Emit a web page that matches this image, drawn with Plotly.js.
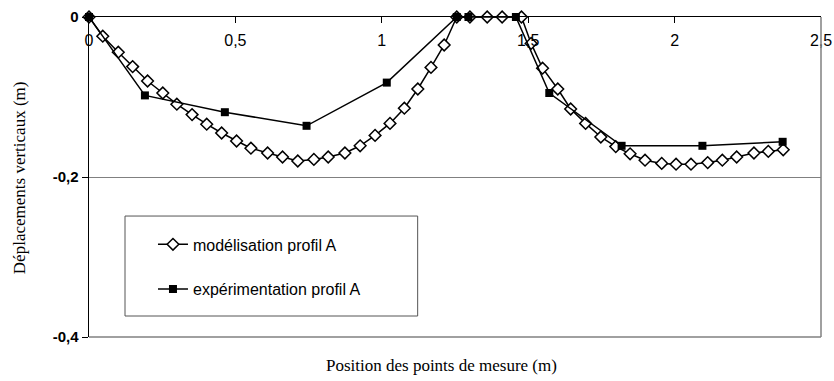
<!DOCTYPE html>
<html>
<head>
<meta charset="utf-8">
<script src="https://cdn.plot.ly/plotly-3.0.1.min.js"></script>
<style>html,body{margin:0;padding:0;background:#fff;}#chart{width:834px;height:381px;}</style>
</head>
<body>
<div id="chart"></div>
<script>
// Modélisation profil A (diamonds)
const modX = [0,0.047,0.100,0.149,0.200,0.252,0.300,0.352,0.402,0.453,0.504,0.553,0.610,0.661,0.713,0.768,0.817,0.874,0.926,0.977,1.028,1.077,1.123,1.168,1.213,1.256,1.301,1.360,1.411,1.477,1.510,1.549,1.601,1.645,1.696,1.748,1.799,1.848,1.899,1.956,2.005,2.056,2.113,2.163,2.212,2.271,2.320,2.371];
const modY = [0,-0.024,-0.044,-0.062,-0.080,-0.095,-0.109,-0.122,-0.134,-0.145,-0.155,-0.164,-0.170,-0.175,-0.180,-0.178,-0.175,-0.170,-0.161,-0.148,-0.133,-0.114,-0.090,-0.063,-0.035,0,0,0,0,0,-0.033,-0.064,-0.090,-0.115,-0.133,-0.150,-0.162,-0.171,-0.179,-0.183,-0.184,-0.184,-0.182,-0.179,-0.175,-0.170,-0.168,-0.166];
// Expérimentation profil A (squares)
const expX = [0,0.191,0.464,0.743,1.017,1.256,1.296,1.458,1.572,1.819,2.095,2.369];
const expY = [0,-0.098,-0.119,-0.136,-0.082,0,0,0,-0.095,-0.161,-0.161,-0.156];
// Ticks
const xTickVals = [0,0.5,1,1.5,2,2.5];
const xTickText = ['0','0,5','1','1,5','2','2,5'];
const yTickVals = [0,-0.2,-0.4];
const yTickText = ['0','-0,2','-0,4'];

const traces = [
  {x: modX, y: modY, type:'scatter', mode:'lines+markers', name:'modélisation profil A',
   legendgroup:'a', cliponaxis:false,
   line:{color:'#000', width:1.5},
   marker:{symbol:'diamond', size:9, color:'#fff', line:{color:'#000', width:1.5}}},
  {x: expX, y: expY, type:'scatter', mode:'lines+markers', name:'expérimentation profil A',
   legendgroup:'b', cliponaxis:false,
   line:{color:'#000', width:1.5},
   marker:{symbol:'square', size:8, color:'#000', line:{color:'#000', width:0}}}
];

const layout = {
  width:834, height:381,
  margin:{l:89, r:13, t:17, b:44, pad:0},
  paper_bgcolor:'#fff', plot_bgcolor:'#fff',
  font:{family:'"Liberation Sans", Arial, sans-serif', color:'#000'},
  showlegend:true,
  legend:{x:0.0874, y:0.3425, xanchor:'left', yanchor:'top', bgcolor:'rgba(0,0,0,0)',
          borderwidth:0, font:{family:'"Liberation Sans", Arial, sans-serif', size:16, color:'#000'},
          traceorder:'grouped', tracegroupgap:21, itemwidth:30},
  xaxis:{range:[0,2.5], side:'top', tickvals:xTickVals, ticktext:xTickText,
         ticks:'inside', ticklen:6, tickcolor:'#000', tickwidth:1,
         ticklabelposition:'inside', ticklabeloverflow:'allow', ticklabelstandoff:12,
         tickfont:{family:'"Liberation Sans", Arial, sans-serif', size:16, color:'#000'},
         showline:true, linecolor:'#000', linewidth:1.5, showgrid:false, zeroline:false, fixedrange:true},
  yaxis:{range:[-0.4,0], tickvals:yTickVals, ticktext:yTickText,
         ticks:'outside', ticklen:6, tickcolor:'#000', tickwidth:1,
         tickfont:{family:'"Liberation Sans", Arial, sans-serif', size:15, color:'#000', weight:'bold'},
         showline:true, linecolor:'#000', linewidth:1.5, showgrid:true, gridcolor:'#808080', gridwidth:1,
         zeroline:false, fixedrange:true},
  shapes:[
    {type:'line', xref:'paper', yref:'paper', x0:1, x1:1, y0:0, y1:1, line:{color:'#808080', width:1.5}},
    {type:'line', xref:'paper', yref:'paper', x0:0, x1:1, y0:0, y1:0, line:{color:'#808080', width:1.5}},
    {type:'rect', xref:'paper', yref:'paper', x0:0.0492, x1:0.449, y0:0.0656, y1:0.378,
     line:{color:'#555', width:1}, fillcolor:'rgba(0,0,0,0)'}
  ],
  annotations:[
    {text:'Position des points de mesure (m)', xref:'paper', yref:'paper', x:0.482, y:-0.0906,
     xanchor:'center', yanchor:'middle', showarrow:false,
     font:{family:'"Liberation Serif", "Times New Roman", serif', size:17, color:'#000'}},
    {text:'Déplacements verticaux (m)', xref:'paper', yref:'paper', x:-0.094, y:0.497,
     xanchor:'center', yanchor:'middle', textangle:-90, showarrow:false,
     font:{family:'"Liberation Serif", "Times New Roman", serif', size:17, color:'#000'}}
  ]
};

Plotly.newPlot('chart', traces, layout, {displayModeBar:false, staticPlot:true});
</script>
</body>
</html>
